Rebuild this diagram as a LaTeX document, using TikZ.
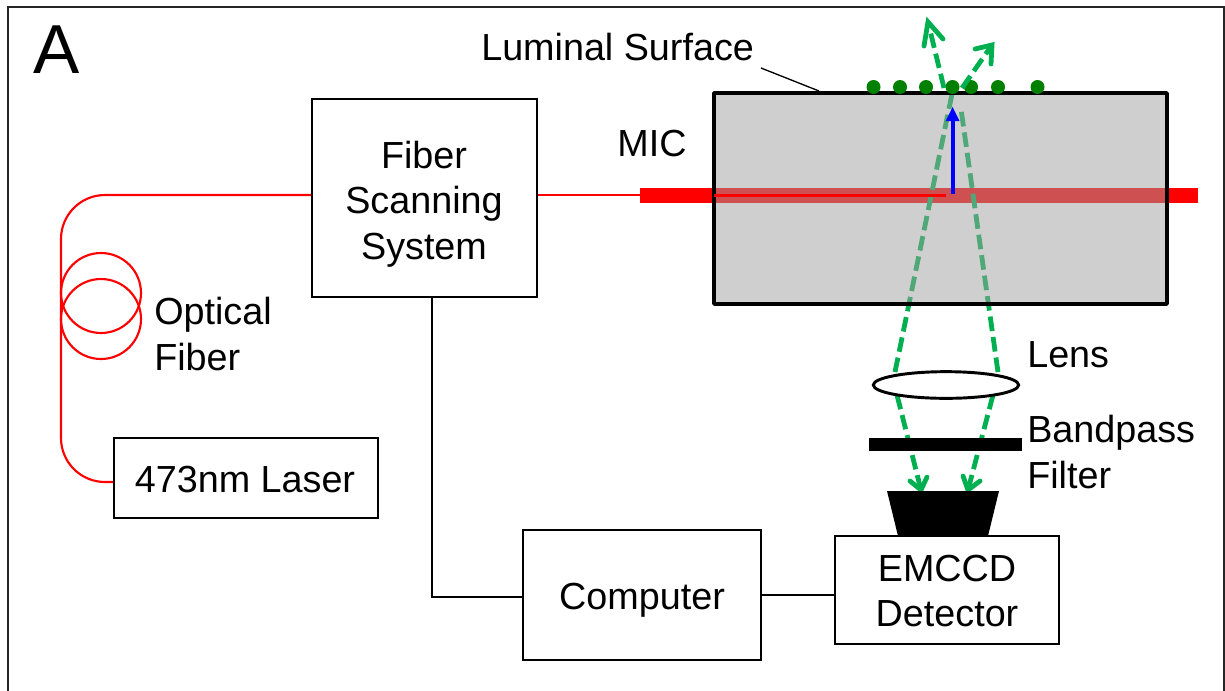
\documentclass[tikz,border=0pt]{standalone}
\usepackage{fontspec}
\setmainfont{Liberation Sans}
\usetikzlibrary{shapes.geometric}
\definecolor{raygreen}{HTML}{00B050}
\definecolor{dotgreen}{HTML}{008000}
\definecolor{frameC}{HTML}{262626}
\definecolor{micgray}{HTML}{A0A0A0}
\begin{document}
\begin{tikzpicture}[x=0.75pt,y=-0.75pt,
  box/.style={draw=black,line width=1.5pt,fill=white,inner sep=0pt,align=center},
  lbl/.style={inner sep=0pt,align=left,font=\fontsize{28.3}{34}\selectfont},
  fiber/.style={draw=red,line width=1.6pt},
  wire/.style={draw=black,line width=1.2pt},
  ray/.style={draw=raygreen,line width=3.6pt,dash pattern=on 11pt off 4.5pt},
  raytip/.style={draw=raygreen,line width=3.6pt,line cap=round},
  dot/.style={circle,fill=dotgreen,minimum size=10.5pt,inner sep=0pt}]
\useasboundingbox (0,0) rectangle (1225,690);
\fill[white] (0,0) rectangle (1225,690);
% frame
\draw[frameC,line width=1.5pt] (8,700) -- (8,6.5) -- (1224,6.5) -- (1224,700);
% boxes
\node[box,minimum width=168.75pt,minimum height=148.5pt] (fss) at (424.5,198) {};
\node[box,minimum width=198pt,minimum height=60pt] (laser) at (246,478) {};
\node[box,minimum width=178.5pt,minimum height=97.5pt] (comp) at (642,595) {};
\node[box,minimum width=168pt,minimum height=81pt] (emccd) at (947,590) {};
% wires
\coordinate (fssb) at (432,297);
\coordinate (leadA) at (761,68);
\coordinate (leadB) at (819,91);
\draw[wire] (fssb) -- (432,597) -- (comp.west|-0,597);
\draw[wire] (comp.east) -- (emccd.west|-comp.east);
\draw[wire,line width=1pt] (leadA) -- (leadB);
% fiber
\draw[fiber,rounded corners=33pt] (fss.west|-0,195) -- (61,195) -- (61,482) -- (laser.west|-0,482);
\draw[fiber] (101,293) circle[radius=40];
\draw[fiber] (101,319) circle[radius=40];
\draw[fiber] (fss.east|-0,195) -- (640,195);
% bar and rays under translucent MIC
\fill[red] (640,188) rectangle (1197.5,203);
\coordinate (lensL) at (895,372);
\coordinate (lensR) at (998,372);
\coordinate (apexL) at (952,94);
\coordinate (apexR) at (961,109);
\draw[ray] (lensL) -- (apexL);
\draw[ray] (lensR) -- (apexR);
\path[fill=micgray,fill opacity=.5] (714,93) rectangle (1167,304);
\draw[black,line width=2.6pt,line join=round] (714,93) rectangle (1167,304);
\draw[red,line width=1.6pt] (714,195.5) -- (946,195.5);
% blue arrow
\coordinate (bluea) at (952.6,194);
\coordinate (blueb) at (952.6,107);
\draw[blue,line width=3pt] (bluea) -- (952.6,118);
\fill[blue] (blueb) -- (959.5,121) -- (945.7,121) -- cycle;
% dots
\foreach \n/\x in {a/873.5,b/900,c/926,d/952.5,e/971,f/998,g/1037.5}
  \node[dot] (\n) at (\x,87) {};
% upper arrows
\coordinate (upL) at (944,88);
\coordinate (tipL) at (928,22);
\coordinate (upR) at (962,88);
\coordinate (tipR) at (992,45);
\draw[ray] (upL) -- (tipL);
\draw[ray] (upR) -- (tipR);
\draw[raytip] (924,46) -- (928,22) -- (943,39);
\draw[raytip] (975,49) -- (992,45) -- (991,64);
% lower rays
\coordinate (lowL) at (897,395);
\coordinate (dtipL) at (921,490);
\coordinate (lowR) at (993,395);
\coordinate (dtipR) at (968,490);
\draw[ray] (lowL) -- (dtipL);
\draw[ray] (lowR) -- (dtipR);
\draw[raytip] (910,481) -- (921,490) -- (927,477);
\draw[raytip] (963,476) -- (968,490) -- (980,481);
% optics
\node[draw=black,fill=white,line width=2.2pt,ellipse,minimum width=109pt,minimum height=20pt,inner sep=0pt] (lens) at (946,385) {};
\fill[black] (869,438) rectangle (1022,451);
\fill[black] (887,491) -- (999,491) -- (988,536) -- (898,536) -- cycle;
% text
\node[inner sep=0pt,anchor=center,font=\fontsize{52}{56}\selectfont] (A) at (57,50) {A};
\node[lbl,anchor=west] (t1) at (481,47) {Luminal Surface};
\node[lbl,anchor=center] (t2) at (652,144) {MIC};
\node[lbl,align=center] (t3) at (424,204) {Fiber\\Scanning\\System};
\node[lbl,anchor=west] (t4) at (154,334) {Optical\\Fiber};
\node[lbl] (t5) at (245,480) {473nm Laser};
\node[lbl] (t6) at (642,600) {Computer};
\node[lbl,align=center] (t7) at (947,591) {EMCCD\\Detector};
\node[lbl,anchor=west] (t8) at (1027,355) {Lens};
\node[lbl,anchor=west] (t9) at (1027,452) {Bandpass\\Filter};
\end{tikzpicture}
\end{document}
